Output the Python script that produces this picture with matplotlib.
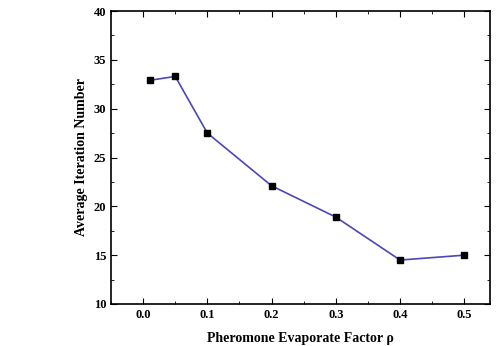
import matplotlib
matplotlib.use("Agg")
import matplotlib.pyplot as plt
from matplotlib.ticker import MultipleLocator

rho = [0.01, 0.05, 0.1, 0.2, 0.3, 0.4, 0.5]
avg_iter = [32.9, 33.3, 27.5, 22.1, 18.9, 14.5, 15.0]
xticks = [0.0, 0.1, 0.2, 0.3, 0.4, 0.5]
yticks = [10, 15, 20, 25, 30, 35, 40]

plt.rcParams['font.family'] = ['Liberation Serif', 'DejaVu Serif']
plt.rcParams['font.weight'] = 'bold'

fig = plt.figure(figsize=(4.96, 3.46), dpi=100)
ax = fig.add_axes([111/496, 1-304/346, (490-111)/496, (304-11)/346])
ax.plot(rho, avg_iter, color='#4a48b8', lw=1.2, marker='s', ms=5,
        mfc='black', mec='black')
ax.set_xlim(-0.05, 0.54)
ax.set_ylim(10, 40)
ax.set_xticks(xticks)
ax.set_xticklabels([f"{v:.1f}" for v in xticks])
ax.set_yticks(yticks)
ax.xaxis.set_minor_locator(MultipleLocator(0.05))
ax.yaxis.set_minor_locator(MultipleLocator(2.5))
ax.tick_params(which='both', direction='in', top=True, right=True, labelsize=9)
ax.tick_params(which='major', length=4)
ax.tick_params(which='minor', length=2)
for s in ax.spines.values():
    s.set_linewidth(1.2)
ax.set_xlabel('Pheromone Evaporate Factor ρ', fontsize=10, fontweight='bold', labelpad=8)
ax.set_ylabel('Average Iteration Number', fontsize=10, fontweight='bold', labelpad=4)
fig.savefig('out.png', dpi=100)
